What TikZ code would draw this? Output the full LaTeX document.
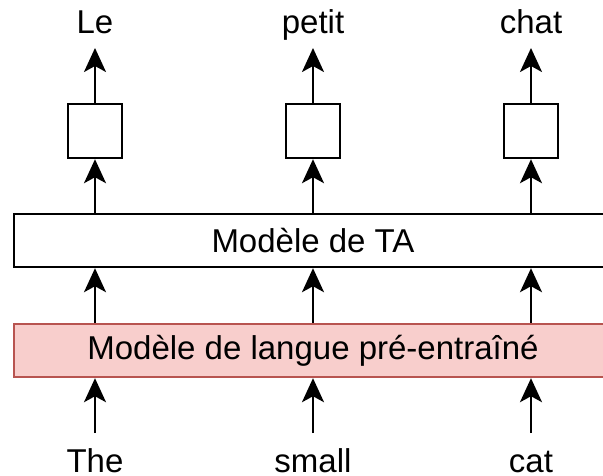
\documentclass[tikz,border=0pt]{standalone}
\usepackage{fontspec}
\setmainfont{Liberation Sans}
\usetikzlibrary{arrows.meta,calc}
\definecolor{pinkfill}{HTML}{F8CECC}
\definecolor{pinkdraw}{HTML}{B85450}
\begin{document}
\begin{tikzpicture}[x=1pt,y=-1pt,
  font=\fontsize{33}{39}\selectfont,
  arr/.style={line width=2.2pt,-{Stealth[length=24pt,width=22pt,inset=6pt]}},
  smallbox/.style={draw,line width=2.4pt,minimum width=54pt,minimum height=54pt,inner sep=0pt},
  bigbox/.style={draw,line width=2.4pt,minimum width=598pt,minimum height=53pt,inner sep=0pt},
  word/.style={anchor=base,inner sep=0pt}]
\useasboundingbox (0,0) rectangle (603,475);
\clip (0,0) rectangle (603,475);
% model boxes
\node[bigbox,fill=white] (ta) at (313,240.5) {Modèle de TA};
\node[bigbox,fill=pinkfill,draw=pinkdraw] (lm) at (313,350.5) {Modèle de langue pré-entraîné};
% small boxes
\node[smallbox] (b1) at (95,131) {};
\node[smallbox] (b2) at (313,131) {};
\node[smallbox] (b3) at (531,131) {};
% output words
\node[word] (o1) at (95,33) {Le};
\node[word] (o2) at (313,33) {petit};
\node[word] (o3) at (531,33) {chat};
% input words
\node[word] (i1) at (95,472) {The};
\node[word] (i2) at (313,472) {small};
\node[word] (i3) at (531,472) {cat};
% arrow tip / start coordinates
\coordinate (t1) at (95,48);
\coordinate (t2) at (313,48);
\coordinate (t3) at (531,48);
\coordinate (s1) at (95,433);
\coordinate (s2) at (313,433);
\coordinate (s3) at (531,433);
% arrows
\foreach \i in {1,2,3}{
  \draw[arr] (b\i.north) -- (t\i);
  \draw[arr] (b\i |- ta.north) -- (b\i.south);
  \draw[arr] (b\i |- lm.north) -- (b\i |- ta.south);
  \draw[arr] (s\i) -- (b\i |- lm.south);
}
\end{tikzpicture}
\end{document}
